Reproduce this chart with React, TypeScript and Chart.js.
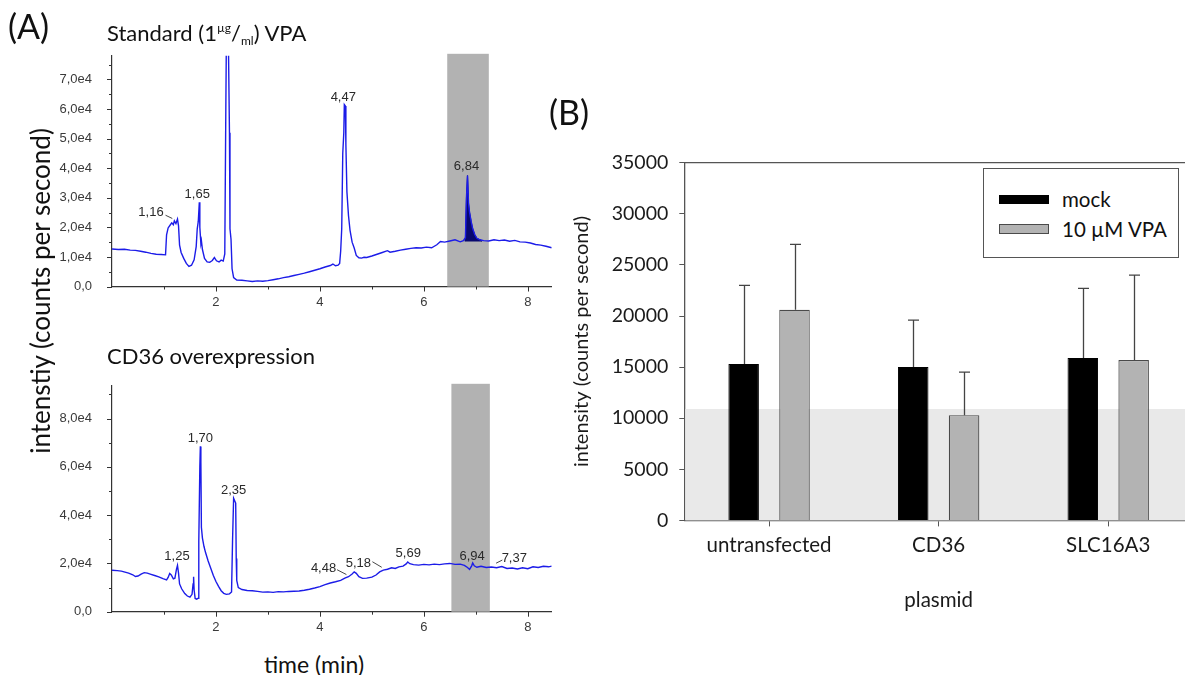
import React, { useEffect, useRef } from 'react';
import { Chart, registerables } from 'chart.js';

Chart.register(...registerables);

// ---------- Panel A (top): Standard 1 µg/ml VPA chromatogram ----------
const stdTime = [
  0.0, 0.12, 0.24, 0.35, 0.45, 0.55, 0.65, 0.75, 0.85, 0.95,
  1.03, 1.05, 1.08, 1.12, 1.15, 1.18, 1.2, 1.23, 1.26, 1.28,
  1.3, 1.33, 1.38, 1.43, 1.48, 1.53, 1.58, 1.62, 1.64, 1.66,
  1.68, 1.69, 1.71, 1.72, 1.74, 1.78, 1.83, 1.88, 1.93, 1.97,
  2.01, 2.06, 2.1, 2.14, 2.17, 2.19, 2.2, 2.24, 2.26, 2.27,
  2.29, 2.31, 2.34, 2.4, 2.5, 2.6, 2.7, 2.8, 2.9, 3.0,
  3.1, 3.2, 3.3, 3.4, 3.5, 3.6, 3.7, 3.8, 3.9, 4.0,
  4.1, 4.2, 4.25, 4.3, 4.35, 4.38, 4.4, 4.42, 4.44, 4.46,
  4.47, 4.49, 4.5, 4.52, 4.55, 4.58, 4.62, 4.66, 4.7, 4.75,
  4.8, 4.85, 4.9, 5.0, 5.1, 5.2, 5.3, 5.35, 5.45, 5.55,
  5.65, 5.75, 5.85, 5.95, 6.05, 6.15, 6.25, 6.32, 6.4, 6.5,
  6.6, 6.7, 6.76, 6.8, 6.82, 6.84, 6.86, 6.88, 6.91, 6.94,
  6.98, 7.02, 7.08, 7.15, 7.25, 7.35, 7.45, 7.55, 7.65, 7.75,
  7.85, 7.95, 8.05, 8.15, 8.25, 8.35, 8.46,
];
const stdIntensity = [
  12700, 12500, 12600, 12300, 12200, 11900, 11600, 11200, 10900, 10800,
  10700, 17500, 19800, 20800, 21500, 20900, 22200, 21300, 22800, 20500,
  14000, 11500, 9500, 7800, 6800, 7200, 9000, 13500, 19500, 22000,
  28500, 20000, 14500, 15500, 12500, 9500, 8300, 8200, 8800, 9800,
  8700, 8300, 8900, 8600, 11000, 60000, 82000, 82000, 52000, 19500,
  16000, 6000, 3000, 2200, 2100, 1900, 1700, 1900, 1800, 2000,
  2300, 2600, 3000, 3300, 3700, 4100, 4500, 5000, 5500, 6000,
  6600, 7100, 7600, 7000, 7200, 7800, 12000, 19500, 45000, 52000,
  61500, 61000, 48000, 32000, 24000, 19000, 15000, 13000, 10500, 9700,
  9600, 9900, 9800, 10300, 10900, 11500, 12100, 11600, 11900, 12300,
  12600, 12900, 13100, 13000, 13300, 13100, 14100, 15200, 15000, 15400,
  15800, 15100, 15500, 16500, 30000, 37500, 28000, 25000, 22000, 19500,
  17500, 16300, 15800, 15500, 15400, 15800, 15500, 15700, 15300, 15600,
  15100, 15000, 14700, 14200, 14000, 13600, 13100,
];
// integrated VPA peak (filled)
const stdPeakTime = [6.79, 6.8, 6.82, 6.84, 6.86, 6.88, 6.91, 6.94, 6.98, 7.02, 7.08, 7.12];
const stdPeakIntensity = [15300, 16500, 30000, 37500, 28000, 25000, 22000, 19500, 17500, 16300, 15800, 15300];
const stdPeakBase = 15200;
const stdWindow = [6.45, 7.25];
const stdYTicks = [0, 5000, 10000, 15000, 20000, 25000, 30000, 35000, 40000, 45000, 50000, 55000, 60000, 65000, 70000, 75000];
const stdLabels = ['1,16', '1,65', '4,47', '6,84'];
const stdLabelTime = [0.75, 1.64, 4.45, 6.82];
const stdLabelIntensity = [24900, 31000, 63800, 40600];
const stdLeaders = [[1.03, 24100, 1.16, 23000]];

// ---------- Panel A (bottom): CD36 overexpression chromatogram ----------
const cd36Time = [
  0.0, 0.1, 0.18, 0.25, 0.32, 0.4, 0.45, 0.5, 0.56, 0.62,
  0.68, 0.75, 0.82, 0.9, 0.98, 1.05, 1.08, 1.11, 1.14, 1.18,
  1.21, 1.24, 1.26, 1.28, 1.3, 1.34, 1.4, 1.45, 1.5, 1.54,
  1.56, 1.57, 1.58, 1.6, 1.63, 1.66, 1.67, 1.69, 1.7, 1.71,
  1.72, 1.74, 1.77, 1.8, 1.85, 1.9, 1.95, 2.0, 2.05, 2.1,
  2.15, 2.2, 2.26, 2.3, 2.32, 2.34, 2.36, 2.38, 2.39, 2.4,
  2.43, 2.5, 2.6, 2.7, 2.8, 2.9, 3.0, 3.1, 3.2, 3.3,
  3.4, 3.5, 3.6, 3.7, 3.8, 3.9, 4.0, 4.1, 4.2, 4.3,
  4.4, 4.48, 4.55, 4.62, 4.66, 4.7, 4.75, 4.82, 4.9, 5.0,
  5.08, 5.15, 5.22, 5.3, 5.38, 5.45, 5.52, 5.6, 5.66, 5.69,
  5.73, 5.8, 5.9, 6.0, 6.1, 6.2, 6.3, 6.4, 6.5, 6.6,
  6.7, 6.78, 6.84, 6.88, 6.92, 6.94, 6.97, 7.02, 7.1, 7.2,
  7.3, 7.4, 7.5, 7.6, 7.7, 7.8, 7.9, 8.0, 8.1, 8.2,
  8.3, 8.4, 8.46,
];
const cd36Intensity = [
  17200, 17000, 16800, 16400, 16000, 15300, 14600, 14800, 15600, 16200,
  16000, 15500, 15000, 14400, 13700, 13200, 14200, 15800, 15200, 13600,
  13900, 17500, 19200, 16000, 11500, 9500, 7500, 6500, 6000, 7200,
  11500, 14500, 9000, 5500, 5200, 5600, 29000, 60000, 68500, 62000,
  35000, 30500, 27000, 24500, 21000, 18000, 15000, 12500, 10500, 8700,
  7600, 7200, 7400, 8200, 30000, 47000, 46000, 45000, 22000, 13000,
  10000, 9200, 8800, 8700, 8400, 8100, 8200, 8000, 8300, 8200,
  8400, 8500, 8600, 8900, 9300, 9800, 10400, 11200, 11900, 12400,
  13000, 13900, 14500, 15600, 16500, 15900, 14500, 13800, 13900, 14300,
  15200, 16500, 17200, 17600, 18200, 17900, 18600, 18900, 19800, 20600,
  19900, 19500, 19300, 19600, 19400, 19700, 19500, 19800, 20000, 19600,
  19700, 19200, 18300, 17500, 19000, 20200, 19000, 18400, 18800, 18300,
  18500, 18200, 18700, 17900, 18100, 17700, 18200, 17800, 18600, 18300,
  18800, 18600, 18900,
];
const cd36Window = [6.53, 7.27];
const cd36YTicks = [0, 10000, 20000, 30000, 40000, 50000, 60000, 70000, 80000, 90000];
const cd36Labels = ['1,25', '1,70', '2,35', '4,48', '5,18', '5,69', '6,94', '7,37'];
const cd36LabelTime = [1.25, 1.7, 2.34, 4.07, 4.74, 5.7, 6.93, 7.74];
const cd36LabelIntensity = [22700, 71800, 50100, 17800, 20100, 24300, 23100, 22100];
const cd36Leaders = [
  [4.33, 17400, 4.51, 15400],
  [5.01, 20700, 5.19, 18400],
  [7.39, 20100, 7.51, 21400],
];

const timeTicks = [1, 2, 3, 4, 5, 6, 7, 8];

// ---------- Panel B: bar chart ----------
const plasmids = ['untransfected', 'CD36', 'SLC16A3'];
const mockMean = [15300, 15000, 15900];
const mockErr = [7700, 4600, 6800];
const vpaMean = [20600, 10300, 15700];
const vpaErr = [6400, 4200, 8300];
const barYTicks = [0, 5000, 10000, 15000, 20000, 25000, 30000, 35000];
const backgroundLevel = 10900;

const TRACE_BLUE = '#1c1ce8';

const fmtSci = (v: number) => (v === 0 ? '0,0' : (v / 1e4).toFixed(1).replace('.', ',') + 'e4');

function makeChromDecor(band: number[], labels: string[], lx: number[], ly: number[], leaders: number[][]) {
  return {
    id: 'chromDecor',
    beforeDatasetsDraw(chart: any) {
      const { ctx, chartArea: ca, scales } = chart;
      const x0 = scales.x.getPixelForValue(band[0]);
      const x1 = scales.x.getPixelForValue(band[1]);
      ctx.save();
      ctx.fillStyle = '#b2b2b2';
      ctx.fillRect(x0, ca.top - 2, x1 - x0, ca.bottom - ca.top + 2);
      ctx.restore();
    },
    afterDatasetsDraw(chart: any) {
      const { ctx, scales } = chart;
      const x = scales.x;
      const y = scales.y;
      ctx.save();
      ctx.font = '13px "Liberation Sans", Arial, sans-serif';
      ctx.fillStyle = '#2a2a2a';
      ctx.textAlign = 'center';
      ctx.textBaseline = 'middle';
      labels.forEach((t, i) => ctx.fillText(t, x.getPixelForValue(lx[i]), y.getPixelForValue(ly[i])));
      ctx.strokeStyle = '#333';
      ctx.lineWidth = 0.9;
      leaders.forEach((l) => {
        ctx.beginPath();
        ctx.moveTo(x.getPixelForValue(l[0]), y.getPixelForValue(l[1]));
        ctx.lineTo(x.getPixelForValue(l[2]), y.getPixelForValue(l[3]));
        ctx.stroke();
      });
      ctx.restore();
    },
    afterDraw(chart: any) {
      const { ctx, chartArea: ca, scales } = chart;
      ctx.save();
      ctx.strokeStyle = '#333';
      ctx.lineWidth = 1;
      scales.x.ticks.forEach((t: any) => {
        const px = Math.round(scales.x.getPixelForValue(t.value)) + 0.5;
        const len = t.label ? 5 : 3;
        ctx.beginPath();
        ctx.moveTo(px, ca.bottom);
        ctx.lineTo(px, ca.bottom + len);
        ctx.stroke();
      });
      scales.y.ticks.forEach((t: any) => {
        const py = Math.round(scales.y.getPixelForValue(t.value)) + 0.5;
        const len = t.label ? 5 : 3;
        ctx.beginPath();
        ctx.moveTo(ca.left, py);
        ctx.lineTo(ca.left - len, py);
        ctx.stroke();
      });
      ctx.restore();
    },
  };
}

function chromConfig(opts: {
  time: number[];
  intensity: number[];
  yMax: number;
  yTicks: number[];
  labelEvery: number;
  xHeight: number;
  yWidth: number;
  padTop: number;
  padRight: number;
  decor: any;
  extra?: any[];
}) {
  const tickFont = { family: '"Liberation Sans", Arial, sans-serif', size: 13 };
  const datasets: any[] = [
    {
      data: opts.time.map((t, i) => ({ x: t, y: opts.intensity[i] })),
      borderColor: TRACE_BLUE,
      borderWidth: 1.4,
      pointRadius: 0,
      tension: 0,
      fill: false,
    },
    ...(opts.extra || []),
  ];
  return {
    type: 'line',
    data: { datasets },
    options: {
      animation: false,
      responsive: false,
      devicePixelRatio: 1,
      layout: { padding: { top: opts.padTop, right: opts.padRight, left: 0, bottom: 0 } },
      plugins: { legend: { display: false }, tooltip: { enabled: false } },
      scales: {
        x: {
          type: 'linear',
          min: 0,
          max: 8.46,
          grid: { display: false },
          border: { display: true, color: '#333', width: 1.2 },
          afterBuildTicks: (s: any) => {
            s.ticks = timeTicks.map((v) => ({ value: v }));
          },
          ticks: {
            autoSkip: false,
            maxRotation: 0,
            padding: 0,
            color: '#3a3a3a',
            font: tickFont,
            callback: (v: number) => (v % 2 === 0 ? String(v) : ''),
          },
          afterFit: (s: any) => {
            s.height = opts.xHeight;
          },
        },
        y: {
          type: 'linear',
          min: 0,
          max: opts.yMax,
          grid: { display: false },
          border: { display: true, color: '#333', width: 1.2 },
          afterBuildTicks: (s: any) => {
            s.ticks = opts.yTicks.map((v) => ({ value: v }));
          },
          ticks: {
            autoSkip: false,
            padding: 12,
            color: '#3a3a3a',
            font: tickFont,
            callback: (v: number) => (v % opts.labelEvery === 0 ? fmtSci(v) : ''),
          },
          afterFit: (s: any) => {
            s.width = opts.yWidth;
          },
        },
      },
    },
    plugins: [opts.decor],
  };
}

const barDecor = {
  id: 'barDecor',
  beforeDatasetsDraw(chart: any) {
    const { ctx, chartArea: ca, scales } = chart;
    const y = scales.y;
    const yb = y.getPixelForValue(backgroundLevel);
    const y0 = y.getPixelForValue(0);
    ctx.save();
    ctx.fillStyle = '#e9e9e9';
    ctx.fillRect(ca.left + 1, yb, ca.right - ca.left, y0 - yb);
    ctx.strokeStyle = '#555';
    ctx.lineWidth = 1.2;
    ctx.beginPath();
    ctx.moveTo(ca.left, ca.top);
    ctx.lineTo(ca.right, ca.top);
    ctx.stroke();
    ctx.restore();
  },
  afterDatasetsDraw(chart: any) {
    const { ctx, scales } = chart;
    const y = scales.y;
    const series = [
      [mockMean, mockErr],
      [vpaMean, vpaErr],
    ];
    ctx.save();
    ctx.strokeStyle = '#444';
    ctx.lineWidth = 1.3;
    series.forEach(([means, errs], di) => {
      const meta = chart.getDatasetMeta(di);
      meta.data.forEach((bar: any, j: number) => {
        const x = Math.round(bar.x) + 0.5;
        const yTop = y.getPixelForValue(means[j] + errs[j]);
        const yBar = y.getPixelForValue(means[j]);
        ctx.beginPath();
        ctx.moveTo(x, yBar);
        ctx.lineTo(x, yTop);
        ctx.moveTo(x - 5.5, yTop);
        ctx.lineTo(x + 5.5, yTop);
        ctx.stroke();
      });
    });
    ctx.restore();
  },
};

function barConfig() {
  const font = { family: 'Lato, "Open Sans", sans-serif', size: 20.5 };
  return {
    type: 'bar',
    data: {
      labels: plasmids,
      datasets: [
        {
          label: 'mock',
          data: mockMean,
          backgroundColor: '#000000',
          borderColor: '#000000',
          borderWidth: 1,
          categoryPercentage: 0.6,
          barPercentage: 0.6,
        },
        {
          label: '10 µM VPA',
          data: vpaMean,
          backgroundColor: '#b3b3b3',
          borderColor: '#4a4a4a',
          borderWidth: 1.2,
          categoryPercentage: 0.6,
          barPercentage: 0.6,
        },
      ],
    },
    options: {
      animation: false,
      responsive: false,
      devicePixelRatio: 1,
      layout: { padding: { top: 13.3, right: 15, left: 0, bottom: 0 } },
      plugins: { legend: { display: false }, tooltip: { enabled: false } },
      scales: {
        x: {
          grid: { display: true, drawOnChartArea: false, offset: false, tickLength: 6, color: '#555' },
          border: { display: true, color: '#555', width: 1.3 },
          ticks: { color: '#1a1a1a', font, padding: 7, maxRotation: 0 },
          title: { display: true, text: 'plasmid', color: '#1a1a1a', font, padding: { top: 0, bottom: 7 } },
          afterFit: (s: any) => {
            s.height = 99.6;
          },
        },
        y: {
          min: 0,
          max: 35000,
          grid: { display: true, drawOnChartArea: false, tickLength: 5, color: '#555' },
          border: { display: true, color: '#555', width: 1.3 },
          afterBuildTicks: (s: any) => {
            s.ticks = barYTicks.map((v) => ({ value: v }));
          },
          ticks: {
            color: '#1a1a1a',
            font: { family: 'Lato, "Open Sans", sans-serif', size: 19.5 },
            padding: 11,
            autoSkip: false,
            callback: (v: number) => String(v),
          },
          title: {
            display: true,
            text: 'intensity (counts per second)',
            color: '#1a1a1a',
            font: { family: 'Lato, "Open Sans", sans-serif', size: 20 },
            padding: { top: 10, bottom: 0 },
          },
          afterFit: (s: any) => {
            s.width = 124.3;
          },
        },
      },
    },
    plugins: [barDecor],
  };
}

function ChartCanvas({ make, left, top, width, height }: { make: () => any; left: number; top: number; width: number; height: number }) {
  const ref = useRef<HTMLCanvasElement>(null);
  useEffect(() => {
    if (!ref.current) return;
    const chart = new Chart(ref.current, make());
    return () => chart.destroy();
  }, []);
  return (
    <canvas
      ref={ref}
      width={width}
      height={height}
      style={{ position: 'absolute', left, top, width, height }}
    />
  );
}

const textBase: React.CSSProperties = {
  position: 'absolute',
  fontFamily: 'Lato, "Open Sans", sans-serif',
  color: '#111',
  lineHeight: 1,
  whiteSpace: 'nowrap',
};

export default function App() {
  const topChart = () =>
    chromConfig({
      time: stdTime,
      intensity: stdIntensity,
      yMax: 78000,
      yTicks: stdYTicks,
      labelEvery: 10000,
      xHeight: 39.5,
      yWidth: 72,
      padTop: 13.3,
      padRight: 13.3,
      decor: makeChromDecor(stdWindow, stdLabels, stdLabelTime, stdLabelIntensity, stdLeaders),
      extra: [
        {
          data: stdPeakTime.map((t, i) => ({ x: t, y: stdPeakIntensity[i] })),
          borderColor: '#08086e',
          backgroundColor: '#08086e',
          borderWidth: 1,
          pointRadius: 0,
          fill: { value: stdPeakBase },
        },
      ],
    });
  const bottomChart = () =>
    chromConfig({
      time: cd36Time,
      intensity: cd36Intensity,
      yMax: 93600,
      yTicks: cd36YTicks,
      labelEvery: 20000,
      xHeight: 34.3,
      yWidth: 72,
      padTop: 12,
      padRight: 13.3,
      decor: makeChromDecor(cd36Window, cd36Labels, cd36LabelTime, cd36LabelIntensity, cd36Leaders),
    });

  return (
    <div
      style={{
        position: 'fixed',
        left: 0,
        top: 0,
        width: 1185,
        height: 675,
        overflow: 'hidden',
        background: '#fff',
      }}
    >
      <ChartCanvas make={topChart} left={40} top={36} width={525} height={290} />
      <ChartCanvas make={bottomChart} left={40} top={366} width={525} height={280} />
      <ChartCanvas make={barConfig} left={560} top={140} width={648} height={480} />

      <div style={{ ...textBase, left: 8, top: 9, fontSize: 34 }}>(A)</div>
      <div style={{ ...textBase, left: 549, top: 95, fontSize: 34 }}>(B)</div>

      <div style={{ ...textBase, left: 107, top: 22, fontSize: 22 }}>
        Standard (1
        <span style={{ fontSize: 12, position: 'relative', top: -9 }}>µg</span>/
        <span style={{ fontSize: 12, position: 'relative', top: 4 }}>ml</span>) VPA
      </div>
      <div style={{ ...textBase, left: 107, top: 345, fontSize: 22 }}>CD36 overexpression</div>
      <div style={{ ...textBase, left: 214, width: 200, textAlign: 'center', top: 653, fontSize: 23 }}>time (min)</div>
      <div
        style={{
          ...textBase,
          left: 40 - 250,
          top: 291 - 13,
          width: 500,
          height: 26,
          textAlign: 'center',
          fontSize: 26,
          transform: 'rotate(-90deg)',
          transformOrigin: '50% 50%',
        }}
      >
        intenstiy (counts per second)
      </div>

      <div
        style={{
          position: 'absolute',
          left: 982.7,
          top: 168.3,
          width: 196,
          height: 89.4,
          boxSizing: 'border-box',
          border: '1.5px solid #555',
          background: '#fff',
        }}
      />
      <div style={{ position: 'absolute', left: 999, top: 195, width: 50, height: 9, background: '#000', border: '1px solid #000', boxSizing: 'border-box' }} />
      <div style={{ position: 'absolute', left: 999, top: 224, width: 50, height: 10, background: '#b3b3b3', border: '1px solid #4a4a4a', boxSizing: 'border-box' }} />
      <div style={{ ...textBase, left: 1062, top: 189, fontSize: 20.5 }}>mock</div>
      <div style={{ ...textBase, left: 1062, top: 219, fontSize: 20.5 }}>10 µM VPA</div>
    </div>
  );
}
